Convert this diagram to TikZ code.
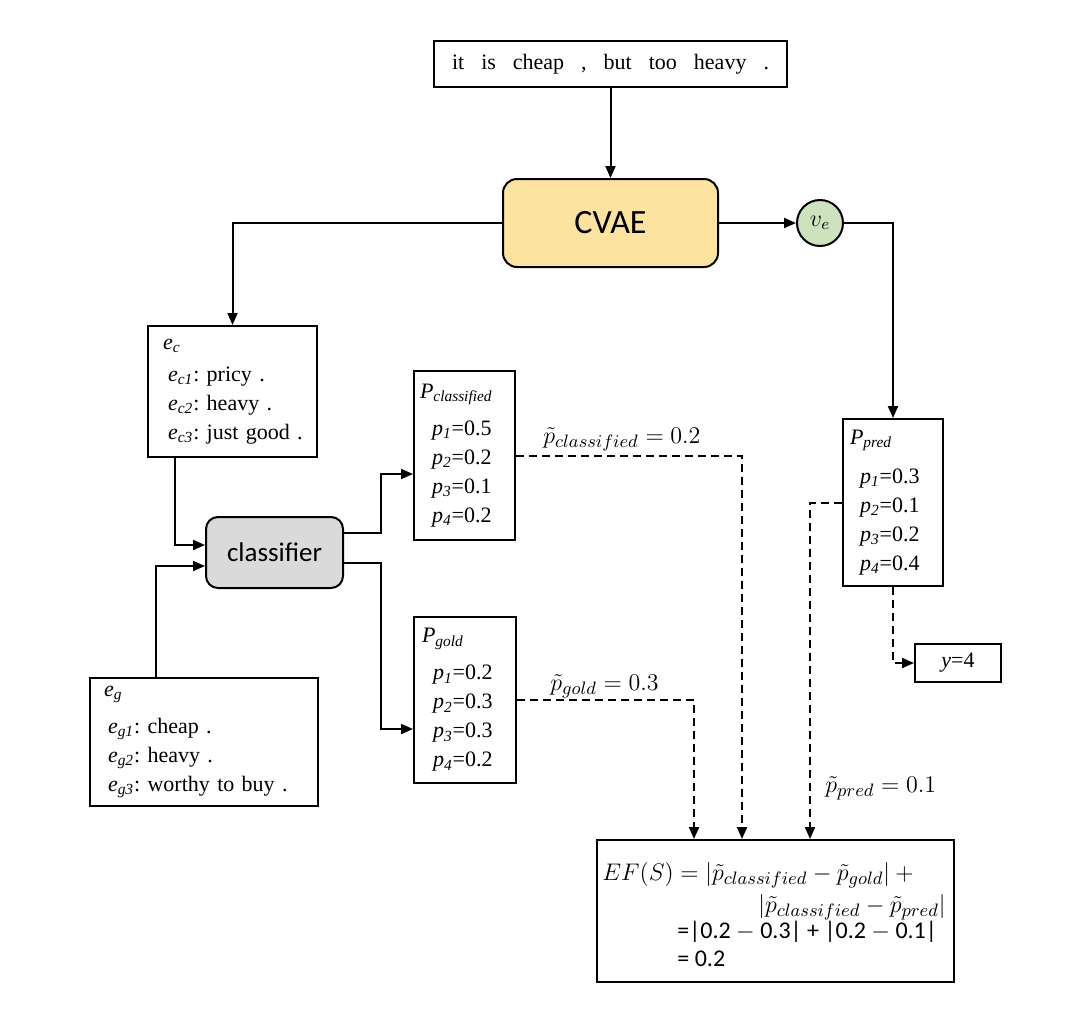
\documentclass[tikz,border=0pt]{standalone}
\usepackage{fontspec}
\setmainfont{Liberation Serif}
\newfontfamily\calfont{Carlito}
\usetikzlibrary{arrows.meta}
\definecolor{cvaefill}{RGB}{252,228,160}
\definecolor{vefill}{RGB}{206,226,190}
\definecolor{clsfill}{RGB}{218,218,218}
\frenchspacing
\begin{document}
\begin{tikzpicture}[x=0.5pt,y=-0.5pt,
  >={Triangle[length=6pt,width=5pt]},
  box/.style={draw,line width=1pt,inner ysep=0pt,align=left,
    font=\fontsize{11}{14.5}\selectfont},
  rbox/.style={draw,line width=1pt,rounded corners=6pt,inner sep=0pt},
  conn/.style={line width=1pt},
  dconn/.style={line width=1pt,dash pattern=on 4pt off 2.5pt},
  lbl/.style={inner sep=0pt,font=\fontsize{13}{15}\selectfont},
  eftxt/.style={inner sep=0pt,font=\fontsize{13}{15}\selectfont},
]
\useasboundingbox (0,0) rectangle (1080,1029);

% nodes
\node[box,minimum width=176.5pt,minimum height=23pt,align=center,inner xsep=0pt] (top) at (610.5,64)
  {it\hspace{8.5pt}is\hspace{8.5pt}cheap\hspace{8.5pt},\hspace{8.5pt}but\hspace{8.5pt}too\hspace{8.5pt}heavy\hspace{8.5pt}.};
\node[rbox,fill=cvaefill,minimum width=107.5pt,minimum height=44pt,rounded corners=7pt,
  font=\calfont\fontsize{17}{20}\selectfont] (cvae) at (610.5,223) {CVAE};
\node[circle,draw,line width=1pt,fill=vefill,minimum size=23pt,inner sep=0pt,
  font=\fontsize{12}{14}\selectfont] (ve) at (820,223) {$v_e$};

\node[box,minimum width=84.5pt,minimum height=65.5pt,inner xsep=3.5pt,text width=77.5pt] (ec) at (232.5,391.5)
  {\hspace*{4pt}\textit{e}\textsubscript{\textit{c}}\\[1.5pt]
   \hspace*{6.5pt}\textit{e}\textsubscript{\textit{c1}}: pricy .\\
   \hspace*{6.5pt}\textit{e}\textsubscript{\textit{c2}}: heavy .\\
   \hspace*{6.5pt}\textit{e}\textsubscript{\textit{c3}}: just good .};

\node[rbox,fill=clsfill,minimum width=68.5pt,minimum height=35.5pt,
  font=\calfont\fontsize{13.5}{16}\selectfont] (cls) at (274.5,552.5) {classifier};

\node[box,minimum width=114pt,minimum height=64pt,inner xsep=7pt,text width=100pt] (eg) at (204,742)
  {\textit{e}\textsubscript{\textit{g}}\\[4pt]
   \hspace*{2pt}\textit{e}\textsubscript{\textit{g1}}: cheap .\\
   \hspace*{2pt}\textit{e}\textsubscript{\textit{g2}}: heavy .\\
   \hspace*{2pt}\textit{e}\textsubscript{\textit{g3}}: worthy to buy .};

\node[box,minimum width=50.5pt,minimum height=84.5pt,inner xsep=3pt,text width=44.5pt] (pc) at (464.5,455.5)
  {\textit{P}\textsubscript{\textit{classified}}\\[4pt]
   \hspace*{6pt}\textit{p}\textsubscript{\textit{1}}=0.5\\
   \hspace*{6pt}\textit{p}\textsubscript{\textit{2}}=0.2\\
   \hspace*{6pt}\textit{p}\textsubscript{\textit{3}}=0.1\\
   \hspace*{6pt}\textit{p}\textsubscript{\textit{4}}=0.2};

\node[box,minimum width=51pt,minimum height=83pt,inner xsep=4pt,text width=43pt] (pg) at (465,700)
  {\textit{P}\textsubscript{\textit{gold}}\\[4pt]
   \hspace*{5.5pt}\textit{p}\textsubscript{\textit{1}}=0.2\\
   \hspace*{5.5pt}\textit{p}\textsubscript{\textit{2}}=0.3\\
   \hspace*{5.5pt}\textit{p}\textsubscript{\textit{3}}=0.3\\
   \hspace*{5.5pt}\textit{p}\textsubscript{\textit{4}}=0.2};

\node[box,minimum width=50pt,minimum height=83.5pt,inner xsep=3.5pt,text width=43pt] (pp) at (893,502.5)
  {\textit{P}\textsubscript{\textit{pred}}\\[5pt]
   \hspace*{5pt}\textit{p}\textsubscript{\textit{1}}=0.3\\
   \hspace*{5pt}\textit{p}\textsubscript{\textit{2}}=0.1\\
   \hspace*{5pt}\textit{p}\textsubscript{\textit{3}}=0.2\\
   \hspace*{5pt}\textit{p}\textsubscript{\textit{4}}=0.4};

\node[box,minimum width=43pt,minimum height=19pt,align=center,inner xsep=0pt] (yb) at (958,663) {\textit{y}=4};

\node[box,minimum width=178.5pt,minimum height=71pt,inner sep=0pt] (ef) at (775.5,911) {};
\node[eftxt,anchor=base west] (ef1) at (602,880)
  {$EF(S)=|\tilde{p}_{classified}-\tilde{p}_{gold}|+{}$};
\node[eftxt,anchor=base east] (ef2) at (946,912)
  {$|\tilde{p}_{classified}-\tilde{p}_{pred}|$};
\node[eftxt,anchor=base west,font=\calfont\fontsize{12}{14}\selectfont] (ef3) at (677,938)
  {=|0.2 $-$ 0.3| + |0.2 $-$ 0.1|};
\node[eftxt,anchor=base west,font=\calfont\fontsize{12}{14}\selectfont] (ef4) at (677,966)
  {= 0.2};

% labels
\node[lbl,anchor=base west] (lc) at (543,443) {$\tilde{p}_{classified}=0.2$};
\node[lbl,anchor=base west] (lg) at (550,690) {$\tilde{p}_{gold}=0.3$};
\node[lbl,anchor=base west] (lp) at (825,792) {$\tilde{p}_{pred}=0.1$};

% connectors
\draw[conn,->] (top) -- (cvae);
\draw[conn,->] (cvae.east) -- (ve.west);
\draw[conn,->] (ve.east) -| (pp.north);
\draw[conn,->] (cvae.west) -| (ec.north);
\draw[conn,->] ([xshift=-28.75pt]ec.south) |- ([yshift=3.75pt]cls.west);
\draw[conn,->] ([xshift=-24pt]eg.north) |- ([yshift=-6.75pt]cls.west);
\draw[conn,->] ([yshift=9.75pt]cls.east) -- ++(18.5pt,0) |- ([yshift=-9.25pt]pc.west);
\draw[conn,->] ([yshift=-5.25pt]cls.east) -- ++(18.5pt,0) |- ([yshift=-14.5pt]pg.west);

\draw[dconn,->] (pc.east) -| ([xshift=-16.75pt]ef.north);
\draw[dconn,->] (pg.east) -| ([xshift=-40.75pt]ef.north);
\draw[dconn,->] (pp.west) -| ([xshift=17.25pt]ef.north);
\draw[dconn,->] (pp.south) |- (yb.west);
\end{tikzpicture}
\end{document}
